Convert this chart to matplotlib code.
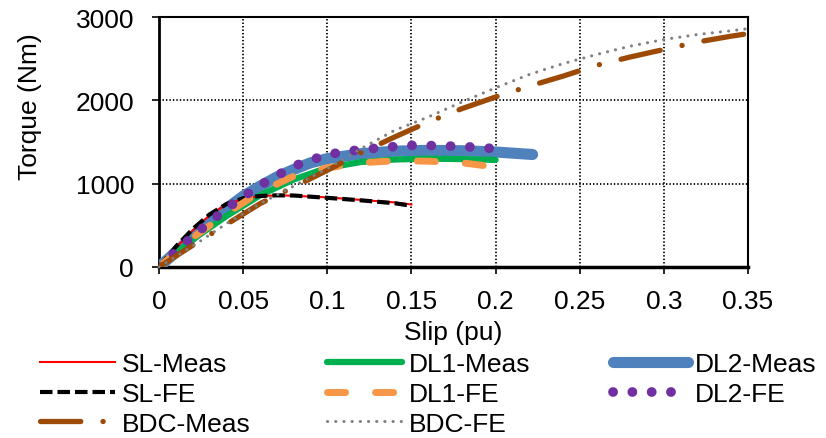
import matplotlib
matplotlib.use("Agg")
import matplotlib.pyplot as plt
from matplotlib.lines import Line2D

plt.rcParams['font.family'] = ['Liberation Sans', 'DejaVu Sans']
plt.rcParams['lines.scale_dashes'] = False

# ---- data ----
sl_meas_x = [0, 0.01, 0.02, 0.03, 0.04, 0.05, 0.06, 0.07, 0.08, 0.10, 0.12, 0.14, 0.15]
sl_meas_y = [0, 230, 440, 620, 750, 820, 850, 860, 855, 835, 805, 775, 750]
sl_fe_x = [0, 0.01, 0.02, 0.03, 0.04, 0.05, 0.06, 0.07, 0.08, 0.10, 0.12, 0.14, 0.15]
sl_fe_y = [0, 245, 455, 630, 755, 825, 852, 860, 858, 830, 800, 765, 735]
dl1_meas_x = [0, 0.02, 0.04, 0.06, 0.08, 0.10, 0.12, 0.14, 0.16, 0.18, 0.20]
dl1_meas_y = [0, 330, 610, 860, 1050, 1190, 1260, 1290, 1300, 1295, 1285]
dl1_fe_x = [0, 0.02, 0.04, 0.06, 0.08, 0.10, 0.12, 0.14, 0.16, 0.18, 0.20]
dl1_fe_y = [0, 350, 640, 900, 1090, 1190, 1250, 1275, 1270, 1250, 1200]
dl2_meas_x = [0, 0.01, 0.02, 0.03, 0.04, 0.05, 0.06, 0.07, 0.08, 0.09, 0.10, 0.12, 0.14, 0.16, 0.18, 0.20, 0.222]
dl2_meas_y = [0, 180, 360, 540, 700, 850, 970, 1080, 1170, 1250, 1300, 1360, 1390, 1400, 1395, 1380, 1350]
dl2_fe_x = [0, 0.02, 0.04, 0.06, 0.08, 0.10, 0.12, 0.14, 0.15, 0.16, 0.18, 0.20]
dl2_fe_y = [0, 370, 700, 980, 1210, 1350, 1410, 1445, 1460, 1458, 1447, 1420]
bdc_meas_x = [0, 0.02, 0.04, 0.06, 0.08, 0.10, 0.12, 0.14, 0.16, 0.18, 0.20, 0.22, 0.24, 0.26, 0.28, 0.30, 0.32, 0.34, 0.35]
bdc_meas_y = [0, 260, 510, 760, 960, 1160, 1370, 1560, 1740, 1900, 2040, 2170, 2290, 2420, 2520, 2610, 2700, 2770, 2800]
bdc_fe_x = [0, 0.02, 0.04, 0.06, 0.08, 0.10, 0.12, 0.14, 0.16, 0.18, 0.20, 0.22, 0.24, 0.26, 0.28, 0.30, 0.32, 0.34, 0.35]
bdc_fe_y = [0, 250, 520, 760, 970, 1180, 1420, 1640, 1800, 1980, 2150, 2310, 2440, 2550, 2650, 2730, 2790, 2835, 2860]

x_ticks = [0, 0.05, 0.1, 0.15, 0.2, 0.25, 0.3, 0.35]
x_labels = ['0', '0.05', '0.1', '0.15', '0.2', '0.25', '0.3', '0.35']
y_ticks = [0, 1000, 2000, 3000]

FS = 19

fig = plt.figure(figsize=(8.26, 4.39), dpi=100)
ax = fig.add_axes([159/826, 1-268/439, (748-159)/826, (268-18)/439])

styles = {
    'SL-Meas': dict(color='#ff0000', lw=1.5),
    'SL-FE': dict(color='black', lw=3.0, linestyle=(0, (9, 3.6)), dash_capstyle='butt'),
    'DL1-Meas': dict(color='#00b050', lw=4.5, solid_capstyle='round'),
    'DL1-FE': dict(color='#f79646', lw=5.0, linestyle=(0, (13, 21.6)), dash_capstyle='round'),
    'DL2-Meas': dict(color='#4f81bd', lw=8.0, solid_capstyle='round'),
    'DL2-FE': dict(color='#7030a0', lw=7.0, linestyle=(0, (0.1, 13.8)), dash_capstyle='round'),
    'BDC-Meas': dict(color='#9c4a06', lw=3.8, linestyle=(0, (29, 16, 0.1, 16)), dash_capstyle='round'),
    'BDC-FE': dict(color='#808080', lw=2.2, linestyle=(0, (0.1, 5.8)), dash_capstyle='round'),
}

ax.plot(dl2_meas_x, dl2_meas_y, **styles['DL2-Meas'], zorder=3)
ax.plot(dl1_meas_x, dl1_meas_y, **styles['DL1-Meas'], zorder=4)
ax.plot(sl_meas_x, sl_meas_y, **styles['SL-Meas'], zorder=5)
ax.plot(sl_fe_x, sl_fe_y, **styles['SL-FE'], zorder=6)
ax.plot(dl1_fe_x, dl1_fe_y, **styles['DL1-FE'], zorder=7)
ax.plot(dl2_fe_x, dl2_fe_y, **styles['DL2-FE'], zorder=8)
ax.plot(bdc_meas_x, bdc_meas_y, **styles['BDC-Meas'], zorder=9)
ax.plot(bdc_fe_x, bdc_fe_y, **styles['BDC-FE'], zorder=10, clip_on=False)

ax.set_xlim(0, 0.35)
ax.set_ylim(0, 3000)
ax.set_xticks(x_ticks)
ax.set_xticklabels(x_labels)
ax.set_yticks(y_ticks)
ax.grid(True, color='black', linestyle=(0, (1, 1.5)), lw=1.3)
ax.set_axisbelow(True)
for s in ax.spines.values():
    s.set_color('black')
    s.set_linewidth(1.5)
ax.spines['bottom'].set_linewidth(2.5)
ax.spines['left'].set_linewidth(2.0)
ax.tick_params(direction='out', length=5, width=1.2, labelsize=FS, colors='black')
ax.tick_params(axis='x', pad=11)
ax.tick_params(axis='y', pad=13)
ax.set_xlabel('Slip (pu)', fontsize=FS)
ax.set_ylabel('Torque (Nm)', fontsize=FS)
ax.xaxis.set_label_coords(0.5, (268-333)/250)
ax.yaxis.set_label_coords((30-159)/589, (268-107)/250)
ax.xaxis.label.set_va('center')
ax.yaxis.label.set_va('center')

cols = [['SL-Meas', 'SL-FE', 'BDC-Meas'], ['DL1-Meas', 'DL1-FE', 'BDC-FE'], ['DL2-Meas', 'DL2-FE']]
xs = [40/826, 327/826, 613/826]
for names, x0 in zip(cols, xs):
    handles = [Line2D([], [], **styles[n]) for n in names]
    fig.legend(handles, names, loc='upper left', bbox_to_anchor=(x0, 1-353/439),
               frameon=False, fontsize=FS, handlelength=2.85, handletextpad=0.27,
               labelspacing=0.22, borderpad=0, borderaxespad=0)

fig.savefig('out.png', dpi=100)
